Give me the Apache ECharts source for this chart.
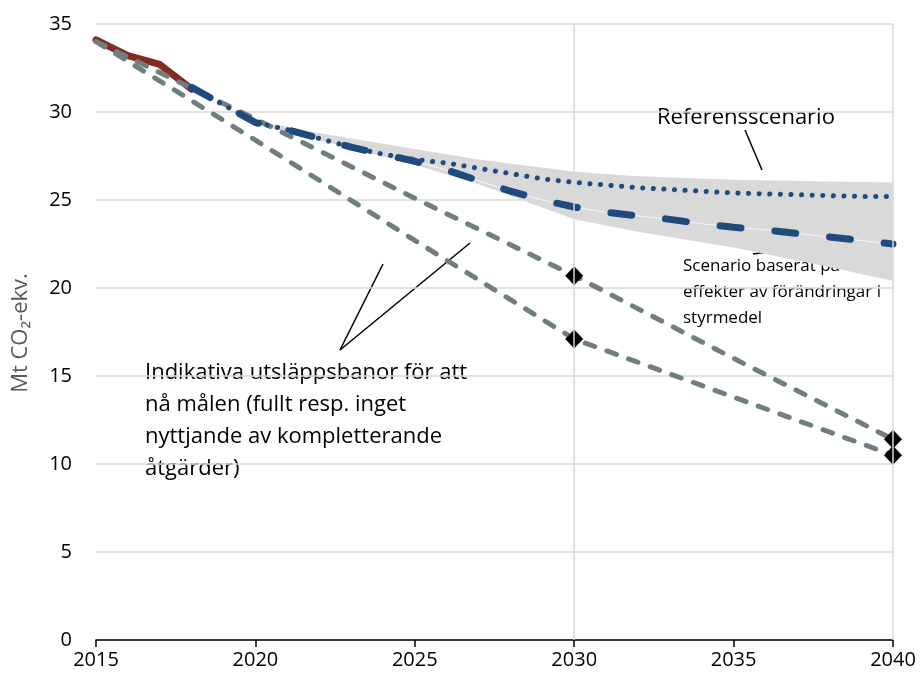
<!DOCTYPE html>
<html>
<head>
<meta charset="utf-8">
<script src="https://cdn.jsdelivr.net/npm/echarts@6.0.0/dist/echarts.min.js"></script>
<style>
  html, body { margin: 0; padding: 0; background: #ffffff; }
  #chart { width: 923px; height: 686px; }
</style>
</head>
<body>
<div id="chart"></div>
<script>
// Historical emissions (Mt CO2-ekv.)
const histYears = [2015, 2016, 2017, 2018];
const histValues = [34.1, 33.2, 32.7, 31.3];

// Projection years shared by both scenarios
const scenYears = [2018, 2019, 2020, 2021, 2022, 2023, 2024, 2025, 2026, 2027, 2028, 2029,
                   2030, 2031, 2032, 2033, 2034, 2035, 2036, 2037, 2038, 2039, 2040];
// Referensscenario
const refValues = [31.4, 30.4, 29.4, 29.0, 28.5, 28.0, 27.6, 27.3, 27.1, 26.8, 26.5, 26.2,
                   26.0, 25.85, 25.7, 25.6, 25.5, 25.4, 25.35, 25.3, 25.25, 25.2, 25.2];
// Scenario baserat på effekter av förändringar i styrmedel
const policyValues = [31.4, 30.4, 29.4, 29.0, 28.5, 28.0, 27.6, 27.2, 26.7, 26.1, 25.5, 25.0,
                      24.6, 24.3, 24.1, 23.9, 23.65, 23.45, 23.3, 23.1, 22.9, 22.7, 22.5];

// Uncertainty range around the scenarios
const bandYears = [2020, 2022, 2025, 2027, 2030, 2032, 2035, 2038, 2040];
const bandUpper = [29.5, 28.8, 27.9, 27.3, 26.6, 26.35, 26.15, 26.05, 26.0];
const bandLower = [29.3, 28.4, 27.0, 25.9, 23.9, 23.2, 22.3, 21.2, 20.4];

// Indicative emission paths towards the targets
const pathYears = [2015, 2020, 2025, 2030, 2035, 2040];
const pathPartial = [34.0, 29.6, 25.1, 20.7, 16.0, 11.4];
const pathFull = [34.0, 28.4, 22.7, 17.1, 13.8, 10.5];

// Target points
const targetYears = [2030, 2030, 2040, 2040];
const targetValues = [20.7, 17.1, 11.4, 10.5];

// Axis ticks
const xTicks = [2015, 2020, 2025, 2030, 2035, 2040];
const yTicks = [0, 5, 10, 15, 20, 25, 30, 35];
const xGridYears = [2030, 2040];

const pairs = (xs, ys) => xs.map((x, i) => [x, ys[i]]);

const FONT = '"Open Sans", Lato, sans-serif';
const GRID_GRAY = '#d9d9d9';
const BLUE = '#1f4a7e';
const RED = '#842a22';
const SLATE = '#6f7f7f';

const chart = echarts.init(document.getElementById('chart'), null, { renderer: 'canvas' });

// Split between the two scenario ranges follows the policy scenario
const splitStart = scenYears.indexOf(2025);

chart.setOption({
  animation: false,
  backgroundColor: '#ffffff',
  grid: { left: 96, right: 30, top: 24, bottom: 46, containLabel: false },
  xAxis: {
    type: 'value',
    min: xTicks[0],
    max: xTicks[xTicks.length - 1],
    interval: 5,
    axisLine: { show: true, lineStyle: { color: '#000', width: 1.5 } },
    axisTick: { show: true, length: 7, lineStyle: { color: '#000', width: 1.5 } },
    axisLabel: { color: '#000', fontFamily: FONT, fontSize: 20, margin: 10, formatter: v => String(v) },
    splitLine: { show: false }
  },
  yAxis: {
    type: 'value',
    min: yTicks[0],
    max: yTicks[yTicks.length - 1],
    interval: 5,
    axisLine: { show: false },
    axisTick: { show: false },
    axisLabel: { color: '#000', fontFamily: FONT, fontSize: 20, margin: 24 },
    splitLine: { show: true, lineStyle: { color: GRID_GRAY, width: 1.5 } }
  },
  series: [
    {
      name: 'Osäkerhetsintervall',
      type: 'custom',
      silent: true,
      data: bandYears.map((y, i) => [y, bandLower[i], bandUpper[i]]),
      encode: { x: 0, y: [1, 2] },
      renderItem: (params, api) => {
        if (params.dataIndex !== 0) return null;
        const top = bandYears.map((y, i) => api.coord([y, bandUpper[i]]));
        const bottom = bandYears.map((y, i) => api.coord([y, bandLower[i]])).reverse();
        return {
          type: 'polygon',
          shape: { points: top.concat(bottom) },
          style: { fill: GRID_GRAY }
        };
      },
      markLine: {
        silent: true,
        symbol: 'none',
        label: { show: false },
        lineStyle: { color: GRID_GRAY, width: 1.5, type: 'solid' },
        data: xGridYears.map(y => ({ xAxis: y }))
      },
      z: 1
    },
    {
      name: 'Gräns',
      type: 'line',
      silent: true,
      data: pairs(scenYears.slice(splitStart), policyValues.slice(splitStart)),
      symbol: 'none',
      lineStyle: { color: '#f6f6f6', width: 1 },
      z: 1
    },
    {
      name: 'Indikativ bana (inget nyttjande)',
      type: 'line',
      data: pairs(pathYears, pathPartial),
      symbol: 'none',
      lineStyle: { color: SLATE, width: 5, type: [10, 13], cap: 'round' },
      z: 2
    },
    {
      name: 'Indikativ bana (fullt nyttjande)',
      type: 'line',
      data: pairs(pathYears, pathFull),
      symbol: 'none',
      lineStyle: { color: SLATE, width: 5, type: [10, 13], cap: 'round' },
      z: 2
    },
    {
      name: 'Historik',
      type: 'line',
      data: pairs(histYears, histValues),
      symbol: 'none',
      lineStyle: { color: RED, width: 7, cap: 'round', join: 'round' },
      z: 1
    },
    {
      name: 'Referensscenario',
      type: 'line',
      data: pairs(scenYears, refValues),
      symbol: 'none',
      lineStyle: { color: BLUE, width: 5, type: [0.1, 10.5], cap: 'round' },
      z: 3
    },
    {
      name: 'Styrmedelsscenario',
      type: 'line',
      data: pairs(scenYears, policyValues),
      symbol: 'none',
      lineStyle: { color: BLUE, width: 7, type: [21, 34], cap: 'round' },
      z: 3
    },
    {
      name: 'Mål',
      type: 'scatter',
      data: pairs(targetYears, targetValues),
      symbol: 'diamond',
      symbolSize: [18, 19],
      itemStyle: { color: '#000', opacity: 1 },
      z: 4
    }
  ],
  graphic: [
    {
      type: 'text', silent: true,
      x: 21, y: 333, rotation: Math.PI / 2,
      style: {
        text: 'Mt CO₂-ekv.', x: 0, y: 0, fill: '#595959',
        font: '22px ' + FONT, textAlign: 'center', textVerticalAlign: 'middle'
      }
    },
    {
      type: 'text', silent: true,
      style: {
        text: 'Referensscenario', x: 657, y: 118, fill: '#000',
        font: '22px ' + FONT, textVerticalAlign: 'middle'
      }
    },
    {
      type: 'text', silent: true,
      style: {
        text: 'Scenario baserat på\neffekter av förändringar i\nstyrmedel',
        x: 683, y: 253, fill: '#000', font: '17px ' + FONT, lineHeight: 26,
        textVerticalAlign: 'top'
      }
    },
    {
      type: 'text', silent: true,
      style: {
        text: 'Indikativa utsläppsbanor för att\nnå målen (fullt resp. inget\nnyttjande av kompletterande\nåtgärder)',
        x: 145, y: 357, fill: '#000', font: '22px ' + FONT, lineHeight: 32,
        textVerticalAlign: 'top'
      }
    },
    { type: 'line', silent: true, shape: { x1: 745, y1: 130, x2: 762, y2: 170 }, style: { stroke: '#000', lineWidth: 1.5 } },
    { type: 'line', silent: true, shape: { x1: 753, y1: 254, x2: 829, y2: 243 }, style: { stroke: '#000', lineWidth: 1.5 } },
    { type: 'line', silent: true, shape: { x1: 340, y1: 350, x2: 383, y2: 264 }, style: { stroke: '#000', lineWidth: 1.5 } },
    { type: 'line', silent: true, shape: { x1: 340, y1: 350, x2: 470, y2: 243 }, style: { stroke: '#000', lineWidth: 1.5 } }
  ]
});
</script>
</body>
</html>
